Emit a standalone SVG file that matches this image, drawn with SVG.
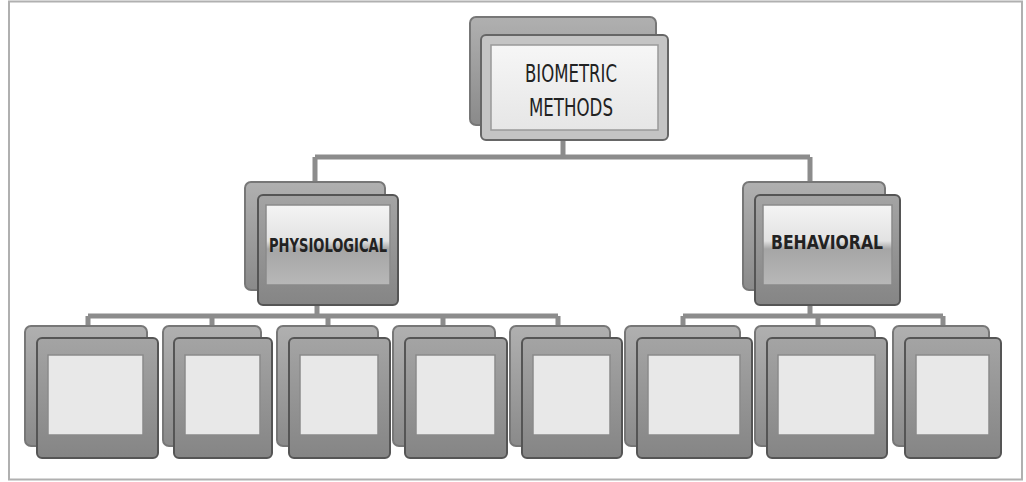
<svg xmlns="http://www.w3.org/2000/svg" width="1026" height="482" viewBox="0 0 1026 482">
  <defs>
    <linearGradient id="gBack" x1="0" y1="0" x2="0" y2="1">
      <stop offset="0" stop-color="#b0b0b0"/>
      <stop offset="1" stop-color="#8a8a8a"/>
    </linearGradient>
    <linearGradient id="gFront" x1="0" y1="0" x2="0" y2="1">
      <stop offset="0" stop-color="#a4a4a4"/>
      <stop offset="1" stop-color="#858585"/>
    </linearGradient>
    <linearGradient id="gPanel" x1="0" y1="0" x2="0" y2="1">
      <stop offset="0" stop-color="#f4f4f4"/>
      <stop offset="0.45" stop-color="#e2e2e2"/>
      <stop offset="0.55" stop-color="#a6a6a6"/>
      <stop offset="1" stop-color="#b8b8b8"/>
    </linearGradient>
    <linearGradient id="gPanelTop" x1="0" y1="0" x2="0" y2="1">
      <stop offset="0" stop-color="#f6f6f6"/>
      <stop offset="1" stop-color="#e6e6e6"/>
    </linearGradient>
  </defs>
  <style>
    .back{fill:url(#gBack);stroke:#777;stroke-width:2}
    .front{fill:url(#gFront);stroke:#555;stroke-width:2}
    .frontTop{fill:#c4c4c4;stroke:#666;stroke-width:2}
    .panel{fill:#e8e8e8;stroke:#8a8a8a;stroke-width:1.5}
    .panelMid{fill:url(#gPanel);stroke:#8a8a8a;stroke-width:1.5}
    .panelTop{fill:url(#gPanelTop);stroke:#999;stroke-width:1.5}
    .conn{fill:none;stroke:#8c8c8c;stroke-width:5;stroke-linejoin:round}
    .lbl{font-family:"DejaVu Sans Condensed","DejaVu Sans","Liberation Sans",sans-serif;fill:#222;text-anchor:middle}
    .frame{fill:#ffffff;stroke:#b0b0b0;stroke-width:2}
  </style>

  <rect class="frame" x="9" y="1.5" width="1013" height="478"/>

  <g id="connectors">
    <path class="conn" d="M563 140 V157 M315 157 H810 M315 157 V183 M810 157 V183"/>
    <path class="conn" d="M317 305 V316 M88 316 H558 M88 316 V327 M212 316 V327 M328 316 V327 M443 316 V327 M558 316 V327"/>
    <path class="conn" d="M810 305 V316 M683 316 H943 M683 316 V327 M818 316 V327 M943 316 V327"/>
  </g>

  <g id="node-biometric">
    <rect class="back" x="470" y="17" width="186" height="108" rx="6"/>
    <rect class="frontTop" x="481" y="35" width="187" height="105" rx="5"/>
    <rect class="panelTop" x="491" y="45" width="167" height="85"/>
    <text class="lbl" x="571" y="82" font-size="25" textLength="92" lengthAdjust="spacingAndGlyphs">BIOMETRIC</text>
    <text class="lbl" x="571" y="116" font-size="25" textLength="84" lengthAdjust="spacingAndGlyphs">METHODS</text>
  </g>

  <g id="node-physiological">
    <rect class="back" x="245" y="182" width="140" height="108" rx="6"/>
    <rect class="front" x="258" y="195" width="140" height="110" rx="5"/>
    <rect class="panelMid" x="266" y="205" width="124" height="80"/>
    <text class="lbl" x="328" y="252" font-size="20" font-weight="bold" textLength="118" lengthAdjust="spacingAndGlyphs">PHYSIOLOGICAL</text>
  </g>

  <g id="node-behavioral">
    <rect class="back" x="743" y="182" width="142" height="108" rx="6"/>
    <rect class="front" x="755" y="195" width="145" height="110" rx="5"/>
    <rect class="panelMid" x="763" y="205" width="129" height="80"/>
    <text class="lbl" x="827" y="249" font-size="20" font-weight="bold" textLength="112" lengthAdjust="spacingAndGlyphs">BEHAVIORAL</text>
  </g>

  <g id="node-p1">
    <rect class="back" x="25" y="326" width="122" height="120" rx="6"/>
    <rect class="front" x="37" y="338" width="121" height="120" rx="5"/>
    <rect class="panel" x="48" y="355" width="95" height="80"/>
  </g>
  <g id="node-p2">
    <rect class="back" x="163" y="326" width="98" height="120" rx="6"/>
    <rect class="front" x="174" y="338" width="98" height="120" rx="5"/>
    <rect class="panel" x="185" y="355" width="75" height="80"/>
  </g>
  <g id="node-p3">
    <rect class="back" x="277" y="326" width="101" height="120" rx="6"/>
    <rect class="front" x="289" y="338" width="101" height="120" rx="5"/>
    <rect class="panel" x="300" y="355" width="78" height="80"/>
  </g>
  <g id="node-p4">
    <rect class="back" x="393" y="326" width="102" height="120" rx="6"/>
    <rect class="front" x="405" y="338" width="102" height="120" rx="5"/>
    <rect class="panel" x="416" y="355" width="79" height="80"/>
  </g>
  <g id="node-p5">
    <rect class="back" x="510" y="326" width="100" height="120" rx="6"/>
    <rect class="front" x="522" y="338" width="100" height="120" rx="5"/>
    <rect class="panel" x="533" y="355" width="77" height="80"/>
  </g>
  <g id="node-b1">
    <rect class="back" x="625" y="326" width="115" height="120" rx="6"/>
    <rect class="front" x="637" y="338" width="115" height="120" rx="5"/>
    <rect class="panel" x="648" y="355" width="92" height="80"/>
  </g>
  <g id="node-b2">
    <rect class="back" x="755" y="326" width="120" height="120" rx="6"/>
    <rect class="front" x="767" y="338" width="120" height="120" rx="5"/>
    <rect class="panel" x="778" y="355" width="97" height="80"/>
  </g>
  <g id="node-b3">
    <rect class="back" x="893" y="326" width="96" height="120" rx="6"/>
    <rect class="front" x="905" y="338" width="96" height="120" rx="5"/>
    <rect class="panel" x="916" y="355" width="73" height="80"/>
  </g>
</svg>
